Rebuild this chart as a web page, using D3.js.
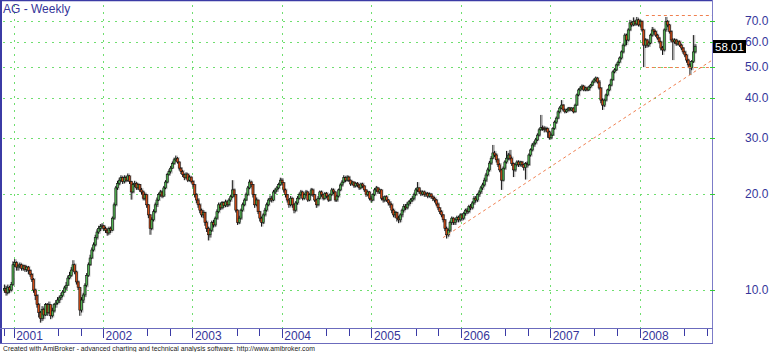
<!DOCTYPE html>
<html>
<head>
<meta charset="utf-8">
<script src="https://cdn.jsdelivr.net/npm/d3@7"></script>
<style>
  body { margin: 0; background: #fff; }
  svg { display: block; font-family: Arial, "Liberation Sans", sans-serif; }
</style>
</head>
<body>
<svg id="chart" width="770" height="352"></svg>
<script>
// weekly bars, first bar dated 2000-11-24, one bar per week after it
const firstWeek = '2000-11-24';
const firstOpen = 10.0;

const closes = [
  10.1, 9.8, 10.2, 10.0, 10.4, 12.0, 12.2, 11.8, 11.9, 12.0,
  11.7, 11.9, 11.6, 11.8, 11.5, 11.2, 10.8, 10.0, 9.6, 9.0,
  8.5, 8.15, 8.7, 8.35, 9.0, 8.5, 9.0, 8.3, 8.6, 9.0,
  9.1, 9.3, 9.45, 9.6, 9.85, 10.15, 10.35, 10.9, 11.1, 11.55,
  12.0, 11.4, 10.6, 10.2, 8.65, 9.3, 9.65, 10.35, 11.1, 12.0,
  12.6, 13.35, 13.85, 14.6, 15.2, 15.6, 15.8, 15.9, 15.6, 15.4,
  15.1, 15.6, 15.4, 16.8, 18.5, 20.9, 21.6, 22.1, 22.5, 21.9,
  22.5, 22.1, 22.8, 21.9, 20.3, 21.4, 21.6, 20.9, 21.4, 20.6,
  20.3, 19.4, 19.9, 18.5, 17.2, 15.6, 16.6, 17.6, 18.5, 19.15,
  19.9, 20.3, 19.7, 20.9, 21.8, 23.0, 23.5, 24.1, 24.9, 25.6,
  25.9, 25.2, 24.1, 23.5, 23.0, 22.5, 23.1, 22.1, 22.6, 21.9,
  21.4, 19.9, 19.15, 18.5, 17.8, 17.2, 17.5, 16.3, 15.6, 14.9,
  15.4, 16.3, 16.0, 16.8, 17.6, 18.5, 18.1, 18.8, 18.4, 18.9,
  18.5, 19.15, 19.6, 20.6, 19.9, 17.8, 16.3, 16.8, 17.8, 18.5,
  19.15, 19.9, 20.9, 21.8, 21.4, 19.9, 18.5, 19.15, 17.6, 16.8,
  16.3, 17.2, 17.8, 18.5, 19.15, 19.4, 19.15, 20.3, 20.6, 20.9,
  21.4, 22.1, 21.7, 20.6, 19.9, 19.15, 18.5, 19.4, 18.5, 17.8,
  18.75, 19.4, 19.9, 20.3, 19.4, 19.9, 20.3, 19.15, 19.9, 20.6,
  19.9, 19.15, 18.5, 19.4, 20.3, 19.9, 19.4, 20.1, 19.7, 19.15,
  19.9, 20.6, 20.3, 19.15, 19.7, 20.6, 21.35, 21.8, 22.5, 22.1,
  22.6, 22.1, 21.5, 21.8, 21.2, 21.6, 21.35, 20.9, 21.5, 21.2,
  20.6, 19.9, 20.3, 19.4, 19.15, 19.9, 20.6, 20.9, 20.3, 20.6,
  19.4, 19.15, 19.6, 19.15, 18.75, 18.5, 17.8, 17.2, 17.5, 16.8,
  16.6, 17.2, 17.8, 18.3, 18.1, 18.6, 18.9, 19.15, 19.4, 19.9,
  20.6, 20.9, 20.3, 20.0, 20.3, 19.9, 20.1, 19.7, 20.0, 19.6,
  19.4, 19.15, 18.6, 18.1, 17.6, 17.2, 16.6, 15.6, 14.9, 15.4,
  16.3, 16.8, 16.3, 16.6, 16.9, 16.6, 17.2, 16.8, 17.4, 17.8,
  17.6, 18.3, 18.1, 18.75, 19.4, 19.15, 19.9, 20.3, 20.9, 21.35,
  22.1, 22.95, 23.8, 25.0, 25.9, 26.9, 26.5, 25.6, 24.7, 23.8,
  22.1, 24.1, 25.2, 25.9, 26.5, 25.9, 24.9, 23.8, 24.7, 25.2,
  24.7, 25.2, 24.7, 24.2, 24.9, 24.7, 26.5, 27.5, 28.5, 28.9,
  29.55, 30.6, 31.8, 32.3, 32.1, 31.8, 32.1, 31.3, 30.0, 30.6,
  32.1, 33.6, 34.6, 36.2, 37.2, 38.0, 36.7, 36.2, 36.7, 37.2,
  36.7, 37.2, 36.2, 38.0, 40.9, 42.4, 43.0, 43.6, 42.4, 43.0,
  42.4, 43.3, 43.9, 44.9, 45.6, 46.2, 44.9, 43.0, 39.4, 38.0,
  39.4, 40.9, 42.4, 43.9, 45.6, 48.3, 49.0, 50.8, 51.8, 53.4,
  55.8, 58.6, 63.0, 60.8, 65.4, 68.8, 67.8, 69.6, 68.3, 70.3,
  67.8, 69.6, 65.4, 58.6, 60.8, 58.6, 59.5, 63.0, 65.4, 64.6,
  63.0, 61.7, 60.0, 57.4, 56.6, 65.4, 69.6, 67.8, 64.6, 60.8,
  60.0, 60.8, 59.1, 60.0, 58.6, 57.4, 55.8, 54.6, 52.6, 50.8,
  49.7, 52.0, 55.8, 58.01
];

const highs = [
  10.4, 10.3, 10.4, 10.3, 10.6, 12.3, 12.5, 12.3, 12.1, 12.2,
  12.1, 12.0, 12.0, 11.9, 11.9, 11.6, 11.3, 10.9, 10.1, 9.7,
  9.1, 8.6, 8.9, 8.8, 9.1, 9.1, 9.2, 9.0, 8.8, 9.1,
  9.3, 9.5, 9.6, 9.8, 10.0, 10.3, 10.6, 11.1, 11.4, 11.8,
  12.4, 12.1, 11.5, 10.7, 10.2, 9.5, 9.8, 10.5, 11.3, 12.2,
  12.9, 13.6, 14.1, 14.9, 15.5, 15.9, 16.1, 16.2, 16.0, 15.8,
  15.6, 15.8, 15.8, 17.0, 18.8, 21.2, 22.0, 22.5, 22.9, 22.7,
  22.9, 22.8, 23.2, 22.9, 22.0, 21.7, 22.0, 21.8, 21.6, 21.5,
  20.9, 20.5, 20.2, 20.0, 18.6, 17.3, 16.9, 17.9, 18.8, 19.5,
  20.2, 20.6, 20.5, 21.2, 22.1, 23.3, 23.9, 24.5, 25.3, 26.0,
  26.4, 26.1, 25.3, 24.3, 23.8, 23.2, 23.4, 23.2, 22.9, 22.7,
  22.1, 21.5, 20.1, 19.4, 18.7, 18.0, 17.8, 17.6, 16.5, 15.8,
  15.6, 16.5, 16.6, 17.0, 17.9, 18.8, 18.8, 19.0, 18.9, 19.2,
  19.1, 19.4, 19.9, 22.1, 20.8, 20.0, 17.9, 17.1, 18.0, 18.8,
  19.4, 20.2, 21.2, 22.2, 22.0, 21.5, 20.0, 19.5, 19.2, 17.7,
  17.0, 17.4, 18.1, 18.8, 19.4, 19.8, 19.7, 20.6, 20.9, 21.2,
  21.7, 22.5, 22.4, 21.8, 20.8, 20.0, 19.3, 19.7, 19.5, 18.7,
  19.0, 19.7, 20.2, 20.6, 20.4, 20.1, 20.6, 20.4, 20.1, 20.9,
  20.8, 20.0, 19.3, 19.7, 20.5, 20.5, 20.0, 20.3, 20.3, 19.9,
  20.1, 20.9, 20.8, 20.4, 19.9, 20.8, 21.6, 22.1, 22.9, 22.7,
  22.9, 22.8, 22.2, 22.0, 21.9, 21.8, 21.8, 21.5, 21.7, 21.7,
  21.3, 20.7, 20.5, 20.4, 19.7, 20.1, 20.9, 21.2, 21.0, 20.8,
  20.7, 19.7, 19.8, 19.8, 19.3, 19.0, 18.7, 18.0, 17.7, 17.6,
  17.1, 17.4, 18.0, 18.6, 18.6, 18.9, 19.1, 19.4, 19.7, 20.2,
  20.9, 21.8, 21.0, 20.6, 20.5, 20.5, 20.3, 20.3, 20.2, 20.1,
  19.8, 19.6, 19.3, 18.8, 18.2, 17.8, 17.3, 16.7, 15.8, 15.6,
  16.5, 17.0, 16.9, 16.8, 17.1, 17.1, 17.4, 17.4, 17.6, 18.0,
  18.1, 18.5, 18.6, 19.0, 19.7, 19.7, 20.1, 20.6, 21.2, 21.7,
  22.5, 23.3, 24.2, 25.4, 26.3, 28.5, 27.3, 26.8, 25.9, 25.0,
  24.0, 24.4, 25.5, 27.3, 26.9, 27.5, 26.2, 25.1, 25.0, 25.5,
  25.5, 25.4, 25.4, 24.9, 25.2, 25.3, 26.8, 27.8, 28.9, 29.3,
  30.0, 31.0, 32.2, 35.4, 32.8, 32.6, 32.5, 32.3, 31.6, 31.0,
  32.4, 34.0, 35.0, 36.6, 37.7, 39.4, 38.3, 37.1, 37.0, 37.5,
  37.5, 37.4, 37.4, 38.4, 41.3, 42.9, 43.6, 44.1, 43.9, 43.4,
  43.4, 43.7, 44.3, 45.4, 46.1, 46.7, 46.5, 45.5, 43.3, 39.9,
  39.8, 41.3, 42.8, 44.3, 46.0, 48.8, 49.6, 51.3, 52.4, 54.0,
  56.4, 59.3, 63.8, 63.6, 66.2, 70.3, 69.6, 71.6, 70.3, 71.8,
  71.0, 70.4, 70.0, 65.9, 61.6, 61.3, 60.3, 63.7, 66.8, 66.0,
  65.2, 63.6, 62.2, 60.5, 58.2, 66.1, 71.8, 70.2, 68.3, 65.2,
  61.6, 61.5, 61.3, 60.7, 60.6, 59.2, 57.8, 56.3, 55.0, 53.1,
  51.4, 52.6, 63.0, 59.0
];

const lows = [
  9.8, 9.6, 9.7, 9.8, 9.9, 10.3, 11.8, 11.5, 11.5, 11.7,
  11.5, 11.5, 11.4, 11.4, 11.2, 11.0, 10.6, 9.8, 9.3, 8.8,
  8.2, 7.9, 8.0, 8.1, 8.3, 8.3, 8.4, 8.1, 8.2, 8.5,
  8.8, 9.0, 9.1, 9.3, 9.5, 9.8, 10.0, 10.3, 10.8, 11.0,
  11.5, 11.2, 10.4, 10.0, 8.3, 8.5, 9.1, 9.5, 10.2, 11.0,
  11.9, 12.5, 13.2, 13.7, 14.4, 15.0, 15.3, 15.5, 15.3, 15.1,
  14.8, 14.9, 15.1, 15.3, 16.6, 18.3, 20.6, 21.3, 21.8, 21.5,
  21.6, 21.8, 21.9, 21.5, 19.2, 20.1, 21.0, 20.6, 20.6, 20.3,
  19.9, 19.1, 19.1, 18.1, 16.8, 14.9, 15.4, 16.4, 17.4, 18.2,
  19.0, 19.6, 19.4, 19.6, 20.7, 21.6, 22.8, 23.2, 24.0, 24.7,
  25.3, 24.9, 23.7, 23.1, 22.6, 22.1, 22.3, 21.8, 21.9, 21.6,
  21.0, 19.5, 18.7, 18.1, 17.4, 16.9, 16.8, 15.9, 15.2, 14.3,
  14.6, 15.2, 15.7, 15.8, 16.6, 17.4, 17.8, 17.9, 18.1, 18.2,
  18.2, 18.3, 18.9, 19.4, 19.6, 17.5, 16.0, 16.1, 16.6, 17.6,
  18.3, 19.0, 19.7, 20.7, 21.0, 19.5, 18.1, 18.3, 17.3, 16.4,
  15.8, 16.1, 17.0, 17.6, 18.3, 18.9, 18.8, 19.0, 20.0, 20.3,
  20.7, 21.2, 21.3, 20.2, 19.5, 18.8, 18.1, 18.3, 18.1, 17.4,
  17.6, 18.5, 19.2, 19.7, 19.1, 19.2, 19.7, 18.9, 19.0, 19.7,
  19.6, 18.9, 18.1, 18.3, 19.2, 19.6, 19.1, 19.2, 19.4, 18.9,
  19.0, 19.7, 20.0, 18.9, 18.9, 19.5, 20.4, 21.1, 21.6, 21.8,
  21.9, 21.8, 21.2, 21.3, 20.9, 21.0, 21.0, 20.6, 20.7, 20.9,
  20.3, 19.6, 19.7, 19.1, 18.8, 19.0, 19.7, 20.3, 20.0, 20.0,
  19.1, 18.8, 18.9, 18.9, 18.4, 18.1, 17.4, 16.9, 16.8, 16.4,
  16.2, 16.3, 16.9, 17.5, 17.8, 17.9, 18.3, 18.6, 18.9, 19.1,
  19.7, 20.3, 20.0, 19.7, 19.8, 19.6, 19.6, 19.4, 19.5, 19.3,
  19.0, 18.8, 18.3, 17.8, 17.3, 16.9, 16.3, 15.3, 14.5, 14.7,
  15.2, 16.0, 16.0, 16.0, 16.3, 16.3, 16.4, 16.5, 16.6, 17.1,
  17.3, 17.4, 17.8, 17.9, 18.5, 18.8, 18.9, 19.6, 20.0, 20.6,
  21.1, 21.8, 22.7, 23.5, 24.7, 25.7, 26.1, 25.1, 24.3, 23.4,
  20.6, 21.9, 23.8, 24.9, 25.5, 25.5, 24.5, 22.6, 23.5, 24.4,
  24.3, 24.4, 24.3, 23.7, 22.2, 24.2, 24.5, 26.2, 27.2, 28.1,
  28.6, 29.3, 30.3, 31.5, 31.6, 31.2, 31.4, 30.0, 29.6, 29.7,
  30.4, 31.8, 33.2, 34.3, 35.8, 36.9, 36.3, 35.8, 35.9, 36.3,
  36.3, 36.4, 35.8, 36.0, 37.8, 40.5, 42.0, 42.6, 42.0, 42.0,
  42.0, 42.1, 42.9, 43.6, 44.5, 45.1, 44.4, 42.5, 38.5, 36.7,
  37.5, 39.0, 40.5, 42.0, 43.5, 45.3, 47.8, 48.6, 50.3, 51.4,
  52.8, 55.2, 58.0, 58.6, 60.2, 64.8, 66.9, 67.2, 67.4, 67.6,
  67.0, 66.9, 64.6, 50.0, 57.4, 57.6, 57.8, 59.0, 62.3, 63.6,
  62.2, 60.9, 59.3, 56.4, 54.6, 56.0, 64.5, 66.7, 63.7, 59.7,
  52.6, 59.2, 58.3, 58.6, 57.8, 56.5, 55.0, 53.7, 51.6, 49.8,
  47.2, 48.9, 51.5, 55.2
];

const yTicks = [10, 20, 30, 40, 50, 60, 70];
const years = [2001, 2002, 2003, 2004, 2005, 2006, 2007, 2008];
const minorMonths = [6, 9];          // July and October ticks
const trendLine = [['2005-10-21', 14.6], ['2008-10-24', 52.6]];
const levelLines = [72.6, 50.0];
const levelStart = '2008-01-27';
const title = 'AG - Weekly';
const footer = 'Created with AmiBroker - advanced charting and technical analysis software. http://www.amibroker.com';

const parse = d3.timeParse('%Y-%m-%d');
const start = parse(firstWeek);

const bars = closes.map((c, i) => ({
  date: d3.timeDay.offset(start, i * 7),
  open: i === 0 ? firstOpen : closes[i - 1],
  high: highs[i],
  low: lows[i],
  close: c
}));

const plotRight = 712, plotBottom = 328, axisBottom = 343;

const x = d3.scaleTime()
  .domain([new Date(2001, 0, 1), new Date(2008, 0, 1)])
  .range([13.7, 639.5]);
const y = d3.scaleLog().domain([10, 70]).range([290, 20.5]);

const svg = d3.select('#chart');
const axisColor = '#3b3ba5';
const textColor = '#35359a';
const gridColor = '#6fde6f';

svg.append('defs').append('clipPath').attr('id', 'plot')
  .append('rect').attr('x', 2).attr('y', 2).attr('width', plotRight - 2).attr('height', plotBottom - 2);

// grid
const grid = svg.append('g').attr('shape-rendering', 'crispEdges');
grid.selectAll('line.h').data(yTicks).join('line')
  .attr('x1', 3).attr('x2', plotRight)
  .attr('y1', d => Math.round(y(d)) + 0.5).attr('y2', d => Math.round(y(d)) + 0.5)
  .attr('stroke', gridColor).attr('stroke-width', 1).attr('stroke-dasharray', '2,5');
grid.selectAll('line.v').data(years).join('line')
  .attr('x1', d => Math.round(x(new Date(d, 0, 1))) + 0.5)
  .attr('x2', d => Math.round(x(new Date(d, 0, 1))) + 0.5)
  .attr('y1', 5).attr('y2', plotBottom)
  .attr('stroke', gridColor).attr('stroke-width', 1).attr('stroke-dasharray', '2,5');

// candles
const cg = svg.append('g').attr('clip-path', 'url(#plot)');
cg.selectAll('line.shadow').data(bars).join('line')
  .attr('x1', d => x(d.date) + 1.4).attr('x2', d => x(d.date) + 1.4)
  .attr('y1', d => y(d.high)).attr('y2', d => y(d.low))
  .attr('stroke', '#aaa').attr('stroke-width', 1);
cg.selectAll('line.wick').data(bars).join('line')
  .attr('x1', d => x(d.date)).attr('x2', d => x(d.date))
  .attr('y1', d => y(d.high)).attr('y2', d => y(d.low))
  .attr('stroke', '#111').attr('stroke-width', 1);
cg.selectAll('rect.body').data(bars).join('rect')
  .attr('x', d => x(d.date) - 1)
  .attr('width', 2)
  .attr('y', d => y(Math.max(d.open, d.close)))
  .attr('height', d => Math.max(0.8, Math.abs(y(d.open) - y(d.close))))
  .attr('fill', d => d.close >= d.open ? '#52b552' : '#d24a14')
  .attr('stroke', '#111').attr('stroke-width', 0.6);

// dashed study lines
const dash = svg.append('g').attr('clip-path', 'url(#plot)')
  .attr('stroke', '#f08050').attr('stroke-width', 1).attr('stroke-dasharray', '3,3').attr('fill', 'none');
dash.append('line')
  .attr('x1', x(parse(trendLine[0][0]))).attr('y1', y(trendLine[0][1]))
  .attr('x2', x(parse(trendLine[1][0]))).attr('y2', y(trendLine[1][1]));
dash.selectAll('line.lvl').data(levelLines).join('line')
  .attr('x1', x(parse(levelStart))).attr('x2', plotRight)
  .attr('y1', d => Math.round(y(d)) + 0.5).attr('y2', d => Math.round(y(d)) + 0.5);

// frame
svg.append('line').attr('x1', 1).attr('x2', 1).attr('y1', 0).attr('y2', axisBottom)
  .attr('stroke', axisColor).attr('stroke-width', 2);
svg.append('line').attr('x1', 0).attr('x2', plotRight).attr('y1', 0.5).attr('y2', 0.5)
  .attr('stroke', axisColor).attr('stroke-width', 1.5);
svg.append('line').attr('x1', plotRight + 0.5).attr('x2', plotRight + 0.5).attr('y1', 0).attr('y2', axisBottom)
  .attr('stroke', '#7c7cc8').attr('stroke-width', 1);
svg.append('line').attr('x1', 0).attr('x2', plotRight + 1).attr('y1', plotBottom + 0.5).attr('y2', plotBottom + 0.5)
  .attr('stroke', '#6b6bbd').attr('stroke-width', 1);
svg.append('line').attr('x1', 0).attr('x2', plotRight + 1).attr('y1', axisBottom + 0.5).attr('y2', axisBottom + 0.5)
  .attr('stroke', '#6b6bbd').attr('stroke-width', 1);

// y axis labels and ticks
const ya = svg.append('g');
ya.selectAll('line').data(yTicks).join('line')
  .attr('x1', plotRight - 2).attr('x2', plotRight + 3)
  .attr('y1', d => Math.round(y(d)) + 0.5).attr('y2', d => Math.round(y(d)) + 0.5)
  .attr('stroke', '#33cc33');
ya.selectAll('text').data(yTicks).join('text')
  .attr('x', 745).attr('y', d => y(d)).attr('dy', '0.36em')
  .attr('font-size', 12).attr('fill', textColor)
  .text(d => d3.format('.1f')(d));

// last price box
const last = bars[bars.length - 1];
svg.append('rect').attr('x', 713).attr('y', y(last.close) - 6.5).attr('width', 33).attr('height', 13).attr('fill', '#000');
svg.append('text').attr('x', 729.5).attr('y', y(last.close)).attr('dy', '0.36em')
  .attr('text-anchor', 'middle').attr('font-size', 11.5).attr('fill', '#fff')
  .text(d3.format('.2f')(last.close));

// x axis ticks
const minorDates = [];
years.concat([years[0] - 1]).forEach(yr => minorMonths.forEach(m => minorDates.push(new Date(yr, m, 1))));
minorDates.push(start);
const xa = svg.append('g').attr('stroke', axisColor);
xa.selectAll('line.minor').data(minorDates.filter(d => x(d) > 2 && x(d) < plotRight)).join('line')
  .attr('x1', d => Math.round(x(d)) + 0.5).attr('x2', d => Math.round(x(d)) + 0.5)
  .attr('y1', plotBottom + 1).attr('y2', plotBottom + 8);
xa.selectAll('line.major').data(years).join('line')
  .attr('x1', d => Math.round(x(new Date(d, 0, 1))) + 0.5).attr('x2', d => Math.round(x(new Date(d, 0, 1))) + 0.5)
  .attr('y1', plotBottom + 1).attr('y2', plotBottom + 10);
svg.append('g').selectAll('text').data(years).join('text')
  .attr('x', d => x(new Date(d, 0, 1)) + 2.5).attr('y', 339.5)
  .attr('font-size', 12).attr('fill', textColor)
  .text(d => d);

// title and footer
svg.append('text').attr('x', 3).attr('y', 13).attr('font-size', 12).attr('fill', textColor).text(title);
svg.append('text').attr('x', 3).attr('y', 350.5).attr('font-size', 8).attr('fill', '#222')
  .attr('textLength', 312).attr('lengthAdjust', 'spacingAndGlyphs').text(footer);
</script>
</body>
</html>
